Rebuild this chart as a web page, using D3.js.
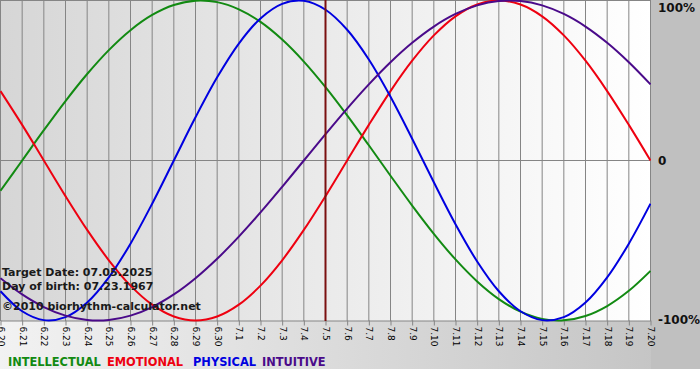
<!DOCTYPE html>
<html><head><meta charset="utf-8">
<script src="https://cdn.jsdelivr.net/npm/d3@7/dist/d3.min.js"></script>
<style>html,body{margin:0;padding:0;background:#fff;}svg{display:block;}</style>
</head><body>
<svg id="c" width="700" height="380"></svg>
<script>
const dayLabels = ["6.20","6.21","6.22","6.23","6.24","6.25","6.26","6.27","6.28","6.29","6.30",
  "7.1","7.2","7.3","7.4","7.5","7.6","7.7","7.8","7.9","7.10","7.11","7.12","7.13","7.14","7.15",
  "7.16","7.17","7.18","7.19","7.20"];
const intellectual = [-0.1893,0,0.1893,0.3717,0.5406,0.6901,0.8146,0.9096,0.9718,0.9989,0.9898,0.9450,
  0.8660,0.7557,0.6182,0.4582,0.2817,0.0951,-0.0951,-0.2817,-0.4582,-0.6182,-0.7557,-0.8660,-0.9450,
  -0.9898,-0.9989,-0.9718,-0.9096,-0.8146,-0.6901];
const emotional = [0.4339,0.2225,0,-0.2225,-0.4339,-0.6235,-0.7818,-0.9010,-0.9749,-1,-0.9749,-0.9010,
  -0.7818,-0.6235,-0.4339,-0.2225,0,0.2225,0.4339,0.6235,0.7818,0.9010,0.9749,1,0.9749,0.9010,0.7818,
  0.6235,0.4339,0.2225,0];
const physical = [-0.8170,-0.9423,-0.9977,-0.9791,-0.8879,-0.7308,-0.5196,-0.2698,0,0.2698,0.5196,0.7308,
  0.8879,0.9791,0.9977,0.9423,0.8170,0.6311,0.3984,0.1362,-0.1362,-0.3984,-0.6311,-0.8170,-0.9423,
  -0.9977,-0.9791,-0.8879,-0.7308,-0.5196,-0.2698];
const intuitive = [-0.7357,-0.8372,-0.9158,-0.9694,-0.9966,-0.9966,-0.9694,-0.9158,-0.8372,-0.7357,-0.6142,
  -0.4759,-0.3247,-0.1646,0,0.1646,0.3247,0.4759,0.6142,0.7357,0.8372,0.9158,0.9694,0.9966,0.9966,
  0.9694,0.9158,0.8372,0.7357,0.6142,0.4759];
const seriesNames = ["INTELLECTUAL","EMOTIONAL","PHYSICAL","INTUITIVE"];
const seriesColors = ["#128a12","#ee0010","#0000e0","#4a0a8a"];
const targetIndex = 15;
const infoLines = ["Target Date: 07.05.2025","Day of birth: 07.23.1967","\u00a92010 biorhythm-calculator.net"];
const yTickVals = [1,0,-1];
const yTickText = ["100%","0","-100%"];

const svg = d3.select("#c");
const W = 700, H = 380;
const defs = svg.append("defs");
const g1 = defs.append("linearGradient").attr("id","bg").attr("x1","0").attr("x2","1").attr("y1","0").attr("y2","0");
g1.append("stop").attr("offset","0").attr("stop-color","#f2f2f2");
g1.append("stop").attr("offset","1").attr("stop-color","#c2c2c2");
const g2 = defs.append("linearGradient").attr("id","pl").attr("x1","0").attr("x2","1").attr("y1","0").attr("y2","0");
g2.append("stop").attr("offset","0").attr("stop-color","#d6d6d6");
g2.append("stop").attr("offset","1").attr("stop-color","#ffffff");

svg.append("rect").attr("x",0).attr("y",0).attr("width",W).attr("height",369).attr("fill","url(#bg)");
svg.append("rect").attr("x",651).attr("y",0).attr("width",49).attr("height",369).attr("fill","#c0c0c0");

const x = d3.scaleLinear().domain([0, dayLabels.length-1]).range([0.5, 650.5]);
const y = d3.scaleLinear().domain([-1,1]).range([320.5, 0.5]);

svg.append("rect").attr("x",0).attr("y",0).attr("width",651).attr("height",321).attr("fill","url(#pl)");

// vertical grid
svg.append("g").selectAll("line").data(dayLabels).join("line")
  .attr("x1",(d,i)=>x(i)).attr("x2",(d,i)=>x(i)).attr("y1",0).attr("y2",321)
  .attr("stroke","#858585").attr("stroke-width",1);
// top border and zero line
svg.append("line").attr("x1",0).attr("x2",651).attr("y1",0.5).attr("y2",0.5).attr("stroke","#858585");
svg.append("line").attr("x1",0).attr("x2",651).attr("y1",y(0)).attr("y2",y(0)).attr("stroke","#858585");

// x axis
const ax = d3.axisBottom(x).tickValues(d3.range(dayLabels.length)).tickFormat(i=>dayLabels[i]).tickSize(5).tickSizeOuter(0);
const axg = svg.append("g").attr("transform","translate(0,320.5)").call(ax);
axg.select(".domain").attr("stroke","#858585");
axg.selectAll(".tick line").attr("stroke","#858585");
axg.selectAll(".tick text")
  .attr("transform","rotate(90)")
  .attr("text-anchor","start")
  .attr("x",6).attr("y",0).attr("dy","0.35em")
  .attr("font-family","'DejaVu Sans', Verdana, sans-serif").attr("font-size","9px").attr("fill","#000");

// lines
const allSeries = [intellectual, emotional, physical, intuitive];
const line = d3.line().x((d,i)=>x(i)).y(d=>y(d)).curve(d3.curveCatmullRom);
const clip = defs.append("clipPath").attr("id","clp");
clip.append("rect").attr("x",0).attr("y",-2).attr("width",651).attr("height",325);
const lg = svg.append("g").attr("clip-path","url(#clp)");
allSeries.forEach((s,k)=>{
  lg.append("path").attr("d",line(s)).attr("fill","none").attr("stroke",seriesColors[k]).attr("stroke-width",2);
});

// target line
svg.append("line").attr("x1",x(targetIndex)).attr("x2",x(targetIndex)).attr("y1",0).attr("y2",321)
  .attr("stroke","#7a1010").attr("stroke-width",2);

// y labels
svg.append("g").selectAll("text").data(yTickVals).join("text")
  .attr("x",658).attr("y",d=>y(d)).attr("dy",(d,i)=>i===0?"0.95em":(i===1?"0.4em":"0.25em"))
  .attr("font-family","'DejaVu Sans', Verdana, sans-serif").attr("font-weight","bold").attr("font-size","12px")
  .attr("fill","#111").text((d,i)=>yTickText[i]);

// info text
svg.append("g").selectAll("text").data(infoLines).join("text")
  .attr("x",2).attr("y",(d,i)=>[276,290,310][i])
  .attr("font-family","'DejaVu Sans', Verdana, sans-serif").attr("font-weight","bold").attr("font-size","11px")
  .attr("fill","#1a1a1a").text(d=>d);

// legend
const legX = [8,107,193,262];
svg.append("g").selectAll("text").data(seriesNames).join("text")
  .attr("x",(d,i)=>legX[i]).attr("y",366)
  .attr("font-family","'DejaVu Sans', Verdana, sans-serif").attr("font-weight","bold").attr("font-size","11.4px")
  .attr("fill",(d,i)=>seriesColors[i]).text(d=>d);
</script>
</body></html>
